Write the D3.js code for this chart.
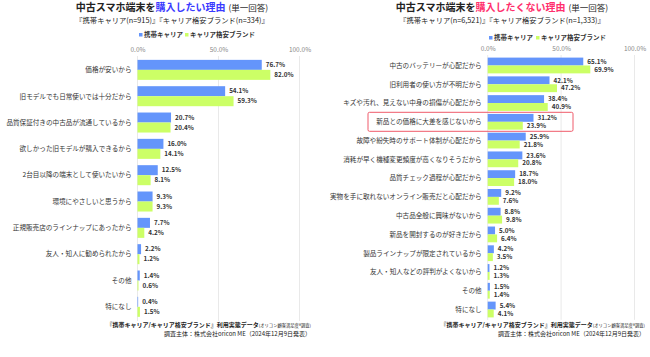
<!DOCTYPE html>
<html><head><meta charset="utf-8">
<script src="https://cdn.jsdelivr.net/npm/d3@7"></script>
<style>
html,body{margin:0;padding:0;background:#fff;}
svg{display:block;font-family:"Noto Sans CJK JP","Noto Sans",sans-serif;}
</style></head>
<body>
<svg id="c" width="650" height="357"></svg>
<script>
// ---- data ----
const seriesNames = ["携帯キャリア", "キャリア格安ブランド"];
const tickValues = [0, 50, 100];

const buyCategories = ["価格が安いから","旧モデルでも日常使いでは十分だから","品質保証付きの中古品が流通しているから","欲しかった旧モデルが購入できるから","2台目以降の端末として使いたいから","環境にやさしいと思うから","正規販売店のラインナップにあったから","友人・知人に勧められたから","その他","特になし"];
const buyCarrier = [76.7,54.1,20.7,16.0,12.5,9.3,7.7,2.2,1.4,0.4];
const buyBudget  = [82.0,59.3,20.4,14.1,8.1,9.3,4.2,1.2,0.6,1.5];

const notBuyCategories = ["中古のバッテリーが心配だから","旧利用者の使い方が不明だから","キズや汚れ、見えない中身の損傷が心配だから","新品との価格に大差を感じないから","故障や紛失時のサポート体制が心配だから","消耗が早く機種変更頻度が高くなりそうだから","品質チェック過程が心配だから","実物を手に取れないオンライン販売だと心配だから","中古品全般に興味がないから","新品を開封するのが好きだから","製品ラインナップが限定されているから","友人・知人などの評判がよくないから","その他","特になし"];
const notBuyCarrier = [65.1,42.1,38.4,31.2,25.9,23.6,18.7,9.2,8.8,5.0,4.2,1.2,1.5,5.4];
const notBuyBudget  = [69.9,47.2,40.9,23.9,21.8,20.8,18.0,7.6,9.8,6.4,3.5,1.3,1.4,4.1];
const highlightCategory = "新品との価格に大差を感じないから";

const colors = ["#6495fb", "#ccff66"];
const svg = d3.select("#c");

function panel(o) {
  const g = svg.append("g");
  // titles
  const t = g.append("text").attr("x", o.titleX).attr("y", 10.5).attr("text-anchor","middle")
    .attr("fill","#222");
  t.append("tspan").attr("font-size",10).attr("font-weight","bold").text("中古スマホ端末を");
  t.append("tspan").attr("font-size",10).attr("font-weight","bold").attr("fill",o.accent).text(o.accentText);
  t.append("tspan").attr("font-size",8.5).attr("dx",3).text("(単一回答)");
  g.append("text").attr("x", o.titleX).attr("y", 22.5).attr("text-anchor","middle")
    .attr("font-size",7.3).attr("fill","#222").text(o.subtitle);

  // legend
  const lg = g.append("g").attr("transform",`translate(${o.legendX},${o.legendY})`);
  let lx = 0;
  seriesNames.forEach((s,i)=>{
    lg.append("rect").attr("x",lx).attr("y",-4).attr("width",3.5).attr("height",3.5).attr("fill",colors[i]);
    lg.append("text").attr("x",lx+5).attr("y",0).attr("font-size",6.5).attr("font-weight","bold")
      .attr("fill","#333").text(s);
    lx += (i===0 ? o.legendGap : 0);
  });

  const x = d3.scaleLinear().domain([0,100]).range([o.x0, o.x1]);
  const y = d3.scaleBand().domain(o.categories).range([o.y0, o.y1]).paddingInner(o.pad).paddingOuter(o.pad/2);
  const sub = d3.scaleBand().domain([0,1]).range([0, y.bandwidth()]);

  // grid
  g.selectAll(".grid").data(tickValues).join("line")
    .attr("x1",d=>x(d)).attr("x2",d=>x(d)).attr("y1",o.gridTop).attr("y2",o.y1+1)
    .attr("stroke","#e3e3e3").attr("stroke-width",0.8);
  // axis labels
  const ax = d3.axisTop(x).tickValues(tickValues).tickFormat(d=>d3.format(".1f")(d)+"%").tickSize(0);
  const axg = g.append("g").attr("transform",`translate(0,${o.axisY})`).call(ax);
  axg.select(".domain").remove();
  axg.selectAll("text").attr("font-size",6.5).attr("fill","#888").attr("font-family","Noto Sans CJK JP, sans-serif");

  // highlight
  if (o.highlight) {
    const yc = y(o.highlight) + y.bandwidth()/2;
    g.append("rect").attr("x",o.hlX0).attr("y",yc-9.5).attr("width",o.hlX1-o.hlX0).attr("height",19)
      .attr("rx",1.5).attr("fill","none").attr("stroke","#ef5a6a").attr("stroke-width",1);
  }

  const series = [o.carrier, o.budget];
  series.forEach((vals,si)=>{
    g.selectAll(".bar"+si).data(o.categories).join("rect")
      .attr("x",x(0)).attr("y",(d)=>y(d)+sub(si))
      .attr("width",(d,i)=>x(vals[i])-x(0)).attr("height",sub.bandwidth())
      .attr("fill",colors[si]);
    g.selectAll(".lab"+si).data(o.categories).join("text")
      .attr("x",(d,i)=>x(vals[i])+o.labelGap).attr("y",(d)=>y(d)+sub(si)+sub.bandwidth()/2)
      .attr("dy","0.35em").attr("font-size",6.3).attr("font-weight","bold").attr("fill","#333")
      .text((d,i)=>d3.format(".1f")(vals[i])+"%");
  });

  // category labels
  g.selectAll(".cat").data(o.categories).join("text")
    .attr("x",x(0)-6).attr("y",d=>y(d)+y.bandwidth()/2).attr("dy","0.35em")
    .attr("text-anchor","end").attr("font-size",6.6).attr("fill","#333").text(d=>d);

  // footer
  const f1 = g.append("text").attr("x",o.footX).attr("y",o.footY).attr("text-anchor","end").attr("fill","#222");
  f1.append("tspan").attr("font-size",6).attr("font-weight","bold").text("『携帯キャリア/キャリア格安ブランド』利用実態データ");
  f1.append("tspan").attr("font-size",4.3).text("(オリコン顧客満足度®調査)");
  g.append("text").attr("x",o.footX).attr("y",o.footY+8.5).attr("text-anchor","end")
    .attr("font-size",6).attr("fill","#222").text("調査主体：株式会社oricon ME（2024年12月9日発表）");
}

panel({
  titleX:172, accent:"#3a3aff", accentText:"購入したい理由",
  subtitle:"『携帯キャリア(n=915)』『キャリア格安ブランド(n=334)』",
  legendX:139, legendY:37, legendGap:46,
  x0:137.5, x1:299.5, y0:56.7, y1:320, pad:0.24, gridTop:56, axisY:55,
  categories:buyCategories, carrier:buyCarrier, budget:buyBudget,
  labelGap:4, footX:311, footY:327
});
panel({
  titleX:502, accent:"#ff2f6d", accentText:"購入したくない理由",
  subtitle:"『携帯キャリア(n=6,521)』『キャリア格安ブランド(n=1,333)』",
  legendX:489, legendY:40, legendGap:47,
  x0:487.7, x1:634.5, y0:56.1, y1:318.9, pad:0.16, gridTop:55, axisY:53.5,
  categories:notBuyCategories, carrier:notBuyCarrier, budget:notBuyBudget,
  highlight:highlightCategory, hlX0:368, hlX1:573,
  labelGap:4, footX:645, footY:327
});
</script>
</body></html>
